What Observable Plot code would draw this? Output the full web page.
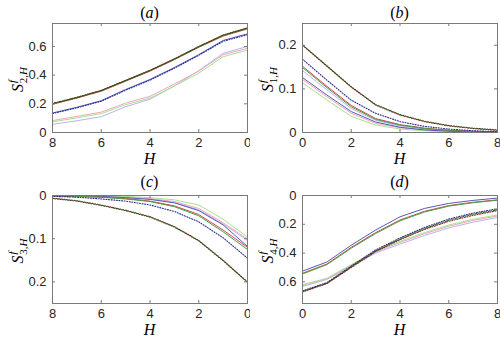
<!DOCTYPE html>
<html><head><meta charset="utf-8">
<script src="https://cdn.jsdelivr.net/npm/d3@7"></script>
<script src="https://cdn.jsdelivr.net/npm/@observablehq/plot@0.6"></script>
<style>
body{margin:0;background:#fff;}
#grid{display:grid;grid-template-columns:250px 250px;width:500px;height:342px;}
#grid svg{display:block;}
</style></head><body><div id="grid"></div>
<script>
// H values (horizon)
const H = [0,1,2,3,4,5,6,7,8];
const seriesKeys = ["blueLight","redLight","greenLight","blueSolid","redSolid","greenSolid","blueDotted","redDotted","greenDotted"];

// Panel (a): S^f_{2,H}
const aBlueLight   = [0.600,0.552,0.432,0.325,0.232,0.180,0.110,0.082,0.057];
const aRedLight    = [0.587,0.542,0.428,0.338,0.252,0.205,0.142,0.112,0.083];
const aGreenLight  = [0.575,0.528,0.414,0.324,0.240,0.194,0.132,0.102,0.074];
const aBlueSolid   = [0.688,0.642,0.543,0.453,0.370,0.300,0.222,0.176,0.136];
const aRedSolid    = [0.722,0.672,0.594,0.508,0.428,0.358,0.288,0.240,0.197];
const aGreenSolid  = [0.726,0.676,0.597,0.511,0.431,0.361,0.291,0.243,0.200];
const aBlueDotted  = [0.682,0.636,0.538,0.448,0.365,0.295,0.218,0.172,0.132];
const aRedDotted   = [0.728,0.678,0.598,0.512,0.432,0.362,0.292,0.243,0.200];
const aGreenDotted = [0.730,0.680,0.600,0.514,0.434,0.364,0.294,0.246,0.203];

// Panel (b): S^f_{1,H}
const bBlueLight   = [0.142,0.098,0.055,0.028,0.015,0.008,0.004,0.002,0.001];
const bRedLight    = [0.122,0.082,0.044,0.021,0.011,0.005,0.002,0.001,0.000];
const bGreenLight  = [0.114,0.075,0.037,0.017,0.008,0.004,0.002,0.001,0.000];
const bBlueSolid   = [0.126,0.086,0.048,0.024,0.012,0.006,0.003,0.001,0.000];
const bRedSolid    = [0.152,0.106,0.062,0.032,0.018,0.010,0.005,0.003,0.001];
const bGreenSolid  = [0.149,0.103,0.059,0.030,0.017,0.009,0.005,0.002,0.001];
const bBlueDotted  = [0.168,0.120,0.074,0.044,0.025,0.014,0.008,0.004,0.002];
const bRedDotted   = [0.200,0.152,0.104,0.063,0.040,0.025,0.015,0.009,0.005];
const bGreenDotted = [0.201,0.153,0.105,0.064,0.041,0.026,0.016,0.010,0.006];

// Panel (c): S^f_{3,H}
const cBlueLight   = [0.104,0.066,0.033,0.016,0.008,0.004,0.002,0.001,0.000];
const cRedLight    = [0.101,0.063,0.030,0.014,0.007,0.004,0.002,0.001,0.000];
const cGreenLight  = [0.096,0.055,0.022,0.010,0.005,0.002,0.001,0.000,0.000];
const cBlueSolid   = [0.118,0.068,0.035,0.017,0.009,0.005,0.002,0.001,0.000];
const cRedSolid    = [0.120,0.080,0.044,0.024,0.013,0.007,0.004,0.002,0.001];
const cGreenSolid  = [0.125,0.084,0.047,0.026,0.014,0.008,0.004,0.002,0.001];
const cBlueDotted  = [0.145,0.098,0.061,0.037,0.022,0.013,0.008,0.004,0.002];
const cRedDotted   = [0.200,0.150,0.104,0.072,0.049,0.034,0.022,0.012,0.006];
const cGreenDotted = [0.201,0.151,0.105,0.073,0.050,0.035,0.023,0.013,0.007];

// Panel (d): S^f_{4,H}
const dBlueLight   = [0.632,0.583,0.492,0.400,0.337,0.278,0.225,0.185,0.152];
const dRedLight    = [0.625,0.578,0.485,0.392,0.326,0.266,0.213,0.173,0.142];
const dGreenLight  = [0.620,0.575,0.480,0.385,0.318,0.258,0.205,0.165,0.135];
const dBlueSolid   = [0.525,0.462,0.345,0.240,0.148,0.090,0.055,0.034,0.018];
const dRedSolid    = [0.540,0.476,0.360,0.258,0.170,0.110,0.070,0.047,0.030];
const dGreenSolid  = [0.545,0.480,0.366,0.264,0.176,0.115,0.074,0.050,0.033];
const dBlueDotted  = [0.662,0.605,0.490,0.378,0.295,0.222,0.164,0.122,0.092];
const dRedDotted   = [0.670,0.612,0.500,0.390,0.307,0.236,0.180,0.138,0.105];
const dGreenDotted = [0.667,0.609,0.496,0.385,0.302,0.230,0.172,0.130,0.099];

// tick values
const xTicks = [0,2,4,6,8];
const yTicksA = [0,0.2,0.4,0.6];
const yTicksB = [0,0.1,0.2];
const yTicksC = [0,0.1,0.2];
const yTicksD = [0,0.2,0.4,0.6];

const styles = {
  blueLight:  {stroke:"#b4b4f4", w:1, dash:null},
  redLight:   {stroke:"#f7a3b6", w:1, dash:null},
  greenLight: {stroke:"#a5e28c", w:1, dash:null},
  blueSolid:  {stroke:"#5858b8", w:1, dash:null},
  redSolid:   {stroke:"#d04848", w:1, dash:null},
  greenSolid: {stroke:"#45a045", w:1, dash:null},
  blueDotted: {stroke:"#2a2a90", w:1.1, dash:"1,1.6"},
  redDotted:  {stroke:"#8a2a1c", w:1.1, dash:"1,1.6"},
  greenDotted:{stroke:"#28501c", w:1.1, dash:"1,1.6", off:1.3}
};

const panels = [
  {id:"a", sub:"2", xDomain:[8,0], yDomain:[0,0.76], reverse:false, yTicks:yTicksA, top:23,
   data:[aBlueLight,aRedLight,aGreenLight,aBlueSolid,aRedSolid,aGreenSolid,aBlueDotted,aRedDotted,aGreenDotted], titleY:17.5},
  {id:"b", sub:"1", xDomain:[0,8], yDomain:[0,0.25], reverse:false, yTicks:yTicksB, top:23,
   data:[bBlueLight,bRedLight,bGreenLight,bBlueSolid,bRedSolid,bGreenSolid,bBlueDotted,bRedDotted,bGreenDotted], titleY:17.5},
  {id:"c", sub:"3", xDomain:[8,0], yDomain:[0,0.25], reverse:true, yTicks:yTicksC, top:24,
   data:[cBlueLight,cRedLight,cGreenLight,cBlueSolid,cRedSolid,cGreenSolid,cBlueDotted,cRedDotted,cGreenDotted], titleY:15.5},
  {id:"d", sub:"4", xDomain:[0,8], yDomain:[0,0.75], reverse:true, yTicks:yTicksD, top:24,
   data:[dBlueLight,dRedLight,dGreenLight,dBlueSolid,dRedSolid,dGreenSolid,dBlueDotted,dRedDotted,dGreenDotted], titleY:15.5}
];

const W = 250, HT = 171, ML = 52, MR = 3, MB = 39;
const frameColor = "#7a7a7a";
const grid = document.getElementById("grid");

for (const p of panels) {
  const innerW = W - ML - MR;
  const innerH = HT - p.top - MB;
  const marks = [];
  seriesKeys.forEach((k, i) => {
    const st = styles[k];
    const rows = H.map((h, j) => ({H: h, v: p.data[i][j]}));
    marks.push(Plot.line(rows, {x:"H", y:"v", stroke: st.stroke, strokeWidth: st.w,
      strokeDasharray: st.dash, strokeDashoffset: st.off || 0}));
  });
  const tl = 3;
  marks.push(Plot.ruleX(xTicks, {stroke:frameColor, insetTop: innerH - tl}));
  marks.push(Plot.ruleX(xTicks, {stroke:frameColor, insetBottom: innerH - tl}));
  marks.push(Plot.ruleY(p.yTicks, {stroke:frameColor, insetRight: innerW - tl}));
  marks.push(Plot.ruleY(p.yTicks, {stroke:frameColor, insetLeft: innerW - tl}));
  marks.push(Plot.frame({stroke: frameColor}));
  const svg = Plot.plot({
    width: W, height: HT,
    marginLeft: ML, marginRight: MR, marginTop: p.top, marginBottom: MB,
    style: {fontFamily: "'Liberation Sans', Arial, sans-serif", fontSize: "13px", color: "#262626", background: "#fff"},
    x: {domain: p.xDomain, ticks: xTicks, tickSize: 0, tickPadding: 5, label: null, tickFormat: d => String(d)},
    y: {domain: p.yDomain, reverse: p.reverse, ticks: p.yTicks, tickSize: 0, tickPadding: 6, label: null, tickFormat: d => String(d)},
    marks
  });
  const s = d3.select(svg);
  const serif = "'Liberation Serif', 'DejaVu Serif', serif";
  // title
  const t = s.append("text").attr("x", ML + innerW/2).attr("y", p.titleY)
    .attr("text-anchor","middle").attr("font-family", serif).attr("font-size", 16).attr("fill","#000");
  t.append("tspan").text("(");
  t.append("tspan").attr("font-style","italic").text(p.id);
  t.append("tspan").text(")");
  // x label
  s.append("text").attr("x", ML + innerW/2).attr("y", 164)
    .attr("text-anchor","middle").attr("font-family", serif).attr("font-size", 16)
    .attr("font-style","italic").attr("fill","#000").text("H");
  // y label
  const cy = p.top + innerH/2 + 2;
  const yl = s.append("text").attr("transform", `translate(23,${cy}) rotate(-90)`)
    .attr("text-anchor","middle").attr("font-family", serif).attr("font-size", 16).attr("fill","#000");
  yl.append("tspan").attr("font-style","italic").text("S");
  yl.append("tspan").attr("font-style","italic").attr("font-size", 11).attr("dy", -7).attr("dx", 1).text("f");
  yl.append("tspan").attr("font-size", 11).attr("dy", 10.5).attr("dx", -3.5).text(p.sub + ",");
  yl.append("tspan").attr("font-size", 11).attr("font-style","italic").text("H");
  grid.appendChild(svg);
}
</script>
</body></html>
